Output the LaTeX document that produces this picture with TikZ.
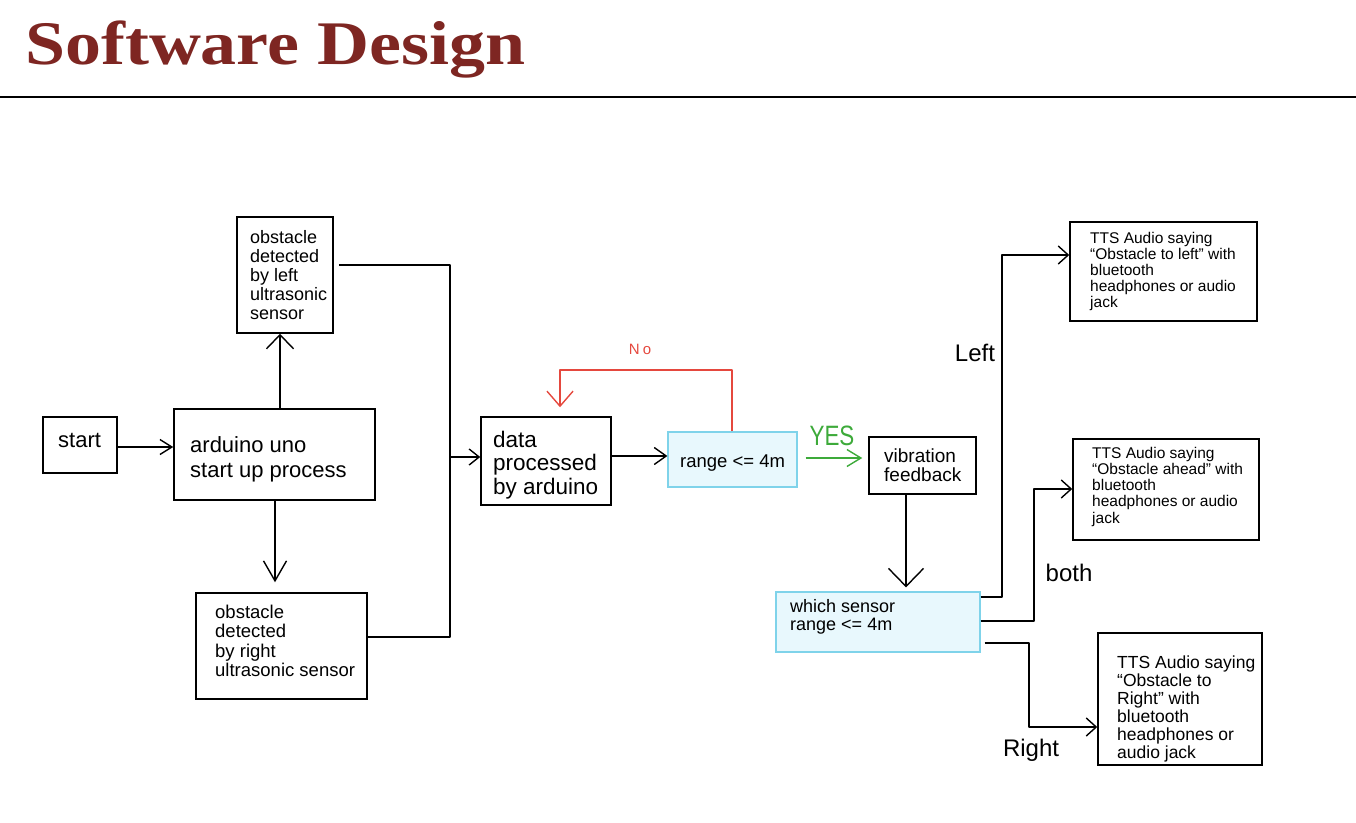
\documentclass[tikz,border=0pt]{standalone}
\usepackage{fontspec}
\setmainfont{Liberation Sans}
\newfontfamily\titlefont{Liberation Serif}
\usetikzlibrary{arrows.meta,fit}
\definecolor{titlered}{HTML}{7E2622}
\definecolor{boxblue}{HTML}{7FD3EA}
\definecolor{boxfill}{HTML}{E8F8FD}
\definecolor{yesgreen}{HTML}{3DAA3A}
\definecolor{nored}{HTML}{E5483E}
\newcommand{\fs}[2]{\fontsize{#1}{#2}\selectfont}
\begin{document}
\begin{tikzpicture}[x=1pt,y=-1pt,
  box/.style={draw=black, line width=1.5pt, inner sep=0pt},
  bluebox/.style={draw=boxblue, fill=boxfill, line width=1.2pt, inner sep=0pt},
  txt/.style={anchor=base west, align=left, inner sep=0pt},
  conn/.style={line width=1.4pt, draw=black, line join=round},
  lbl/.style={inner sep=0pt, font=\fs{24}{24}}
]
\useasboundingbox (0,0) rectangle (1356,822);

% title
\node[anchor=base west, inner sep=0pt, text=titlered, font=\titlefont\bfseries\fs{62}{62}] (title) at (25,64) {\scalebox{1.16}[1]{Software Design}};
\draw[line width=2.5pt] (0,97) -- (1356,97);

% boxes
\node[box, fit={(43,417) (117,473)}] (start) {};
\node[box, fit={(174,409) (375,500)}] (arduino) {};
\node[box, fit={(237,217) (333,333)}] (lsens) {};
\node[box, fit={(196,593) (367,699)}] (rsens) {};
\node[box, fit={(481,417) (611,505)}] (data) {};
\node[bluebox, fit={(668,432) (797,487)}] (range) {};
\node[box, fit={(869,437) (976,494)}] (vib) {};
\node[bluebox, fit={(776,592) (980,652)}] (which) {};
\node[box, fit={(1070,222) (1257,321)}] (ttsl) {};
\node[box, fit={(1073,439) (1259,540)}] (ttsa) {};
\node[box, fit={(1098,633) (1262,765)}] (ttsr) {};

% texts (anchored at the baseline of the last line)
\node[txt, font=\fs{22}{25}] (startt) at (58,447) {start};
\node[txt, font=\fs{22}{25}] (arduinot) at (190,477) {arduino uno\\start up process};
\node[txt, font=\fs{18}{19}] (lsenst) at (250,319) {obstacle\\detected\\by left\\ultrasonic\\sensor};
\node[txt, font=\fs{18.5}{19.5}] (rsenst) at (215,676.5) {obstacle\\detected\\by right\\ultrasonic sensor};
\node[txt, font=\fs{22.5}{23.5}] (datat) at (493,494) {data\\processed\\by arduino};
\node[txt, font=\fs{18.5}{19}] (ranget) at (680,467) {range <= 4m};
\node[txt, font=\fs{19}{19}] (vibt) at (884,481) {vibration\\feedback};
\node[txt, font=\fs{18}{18.5}] (whicht) at (790,630.5) {which sensor\\range <= 4m};
\node[txt, font=\fs{15.5}{16}] (ttslt) at (1090,307) {TTS Audio saying\\“Obstacle to left” with\\bluetooth\\headphones or audio\\jack};
\node[txt, font=\fs{15.5}{16.2}] (ttsat) at (1092,523) {TTS Audio saying\\“Obstacle ahead” with\\bluetooth\\headphones or audio\\jack};
\node[txt, font=\fs{17.5}{18}] (ttsrt) at (1117,758) {TTS Audio saying\\“Obstacle to\\Right” with\\bluetooth\\headphones or\\audio jack};

% labels
\node[lbl] (lleft) at (975,353) {Left};
\node[lbl] (lboth) at (1069,573) {both};
\node[lbl] (lright) at (1031,750) {Right};
\node[inner sep=0pt, text=yesgreen, font=\fs{28}{28}] (lyes) at (832,436) {\scalebox{0.8}[1]{YES}};
\node[inner sep=0pt, text=nored, font=\fs{15}{15}] (lno) at (640,349) {N\hspace{3pt}o};

% coordinates
\coordinate (c0) at (0,447);
\coordinate (c1) at (280,0);
\coordinate (c2) at (275,0);
\coordinate (bt) at (450,265);
\coordinate (bb) at (450,637);
\coordinate (bm) at (450,457);
\coordinate (c3) at (0,456);
\coordinate (g1) at (0,458);
\coordinate (r1) at (732,0);
\coordinate (r2) at (732,370);
\coordinate (r3) at (560,370);
\coordinate (v1) at (906,0);
\coordinate (L1) at (1002,597);
\coordinate (L2) at (1002,255);
\coordinate (A1) at (1034,621);
\coordinate (A2) at (1034,489);
\coordinate (R1) at (1029,643);
\coordinate (R2) at (1029,727);

% connectors
\draw[conn, -{Straight Barb[length=12pt,width=15pt]}] (start.east |- c0) -- (arduino.west |- c0);
\draw[conn, -{Straight Barb[length=14pt,width=27pt]}] (arduino.north -| c1) -- (lsens.south -| c1);
\draw[conn, shorten >=10pt, -{Straight Barb[length=20pt,width=23pt]}] (arduino.south -| c2) -- (rsens.north -| c2);
\draw[conn, shorten <=5pt] (lsens.east |- bt) -- (bt) -- (bb) -- (rsens.east |- bb);
\draw[conn, -{Straight Barb[length=10pt,width=16pt]}] (bm) -- (data.west |- bm);
\draw[conn, -{Straight Barb[length=12pt,width=17pt]}] (data.east |- c3) -- (range.west |- c3);
\draw[conn, draw=yesgreen, shorten <=8pt, shorten >=6pt, -{Straight Barb[length=14pt,width=17pt]}] (range.east |- g1) -- (vib.west |- g1);
\draw[conn, draw=nored, shorten >=9pt, -{Straight Barb[length=15pt,width=26pt]}] (range.north -| r1) -- (r2) -- (r3) -- (data.north -| r3);
\draw[conn, shorten >=4pt, -{Straight Barb[length=18pt,width=35pt]}] (vib.south -| v1) -- (which.north -| v1);
\draw[conn, -{Straight Barb[length=10pt,width=18pt]}] (which.east |- L1) -- (L1) -- (L2) -- (ttsl.west |- L2);
\draw[conn, -{Straight Barb[length=10pt,width=18pt]}] (which.east |- A1) -- (A1) -- (A2) -- (ttsa.west |- A2);
\draw[conn, shorten <=4pt, -{Straight Barb[length=10pt,width=18pt]}] (which.east |- R1) -- (R1) -- (R2) -- (ttsr.west |- R2);
\end{tikzpicture}
\end{document}
